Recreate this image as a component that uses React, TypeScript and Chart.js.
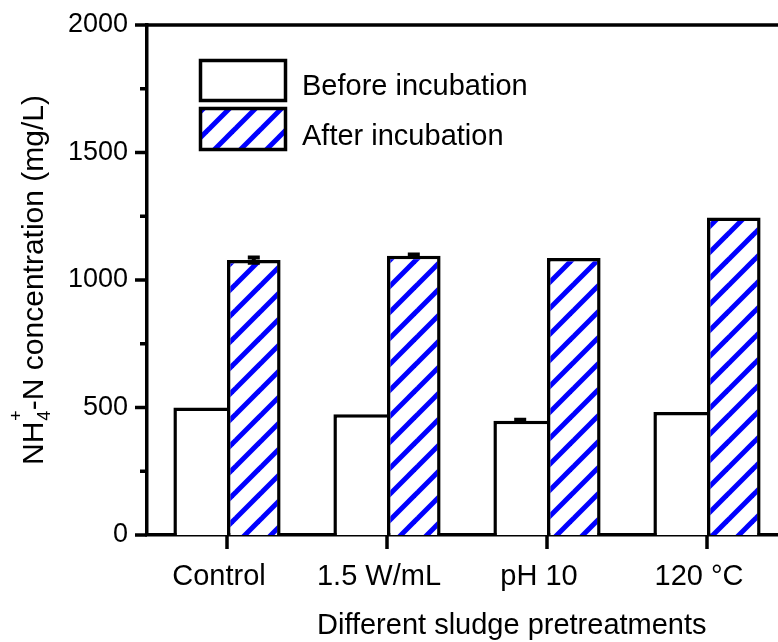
import React, { useEffect, useRef } from 'react';
import { Chart, registerables } from 'chart.js';

Chart.register(...registerables);

// ---- data ----
const categories = ['Control', '1.5 W/mL', 'pH 10', '120 °C'];
const seriesLabels = ['Before incubation', 'After incubation'];
const beforeValues = [500, 474, 448, 482];
const afterValues = [1078, 1095, 1086, 1245];
const beforeErrors = [0, 0, 4, 0];
const afterErrors = [10, 5, 0, 0];
const yMajorTicks = [0, 500, 1000, 1500, 2000];
const yMinorTicks = [250, 750, 1250, 1750];
const xTitle = 'Different sludge pretreatments';
const yTitleParts = { main: 'NH', sub: '4', sup: '+', rest: '-N concentration (mg/L)' };

const FONT = '"Liberation Sans", Arial, Helvetica, sans-serif';
const BLUE = '#0000ff';
const LW = 3.5;

function makeHatch(): CanvasPattern | string {
  const s = 26;
  const c = document.createElement('canvas');
  c.width = s;
  c.height = s;
  const g = c.getContext('2d');
  if (!g) return '#fff';
  g.fillStyle = '#ffffff';
  g.fillRect(0, 0, s, s);
  g.strokeStyle = BLUE;
  g.lineWidth = 5;
  for (let k = 0; k <= 2; k++) {
    g.beginPath();
    g.moveTo(-s, k * s + s);
    g.lineTo(2 * s, k * s - 2 * s);
    g.stroke();
  }
  const p = g.createPattern(c, 'repeat');
  return p || '#fff';
}

export default function App() {
  const ref = useRef<HTMLCanvasElement | null>(null);

  useEffect(() => {
    const canvas = ref.current;
    if (!canvas) return;
    const hatch = makeHatch();

    const decor = {
      id: 'decor',
      afterDatasetsDraw(chart: any) {
        const ctx = chart.ctx;
        const ys = chart.scales.y;
        const errs = [beforeErrors, afterErrors];
        const vals = [beforeValues, afterValues];
        ctx.save();
        ctx.strokeStyle = '#000';
        ctx.lineWidth = 4;
        for (let d = 0; d < 2; d++) {
          const meta = chart.getDatasetMeta(d);
          meta.data.forEach((el: any, i: number) => {
            const e = errs[d][i];
            if (!e) return;
            const v = vals[d][i];
            const x = el.x;
            const y1 = ys.getPixelForValue(v + e);
            const y2 = ys.getPixelForValue(v - e);
            ctx.beginPath();
            ctx.moveTo(x, y1);
            ctx.lineTo(x, y2);
            ctx.moveTo(x - 6, y1);
            ctx.lineTo(x + 6, y1);
            ctx.moveTo(x - 6, y2);
            ctx.lineTo(x + 6, y2);
            ctx.stroke();
          });
        }
        ctx.restore();
      },
      afterDraw(chart: any) {
        const ctx = chart.ctx;
        const { left, right, top, bottom } = chart.chartArea;
        const ys = chart.scales.y;
        const xs = chart.scales.x;
        ctx.save();
        ctx.strokeStyle = '#000';
        ctx.lineWidth = LW;
        ctx.lineCap = 'butt';
        // top frame
        ctx.beginPath();
        ctx.moveTo(left - LW / 2, top);
        ctx.lineTo(right, top);
        ctx.stroke();
        // y ticks
        yMajorTicks.forEach((v) => {
          const y = ys.getPixelForValue(v);
          ctx.beginPath();
          ctx.moveTo(left - 12, y);
          ctx.lineTo(left, y);
          ctx.stroke();
        });
        yMinorTicks.forEach((v) => {
          const y = ys.getPixelForValue(v);
          ctx.beginPath();
          ctx.moveTo(left - 7, y);
          ctx.lineTo(left, y);
          ctx.stroke();
        });
        // x ticks
        categories.forEach((_, i) => {
          const x = xs.getPixelForValue(i);
          ctx.beginPath();
          ctx.moveTo(x, bottom);
          ctx.lineTo(x, bottom + 14);
          ctx.stroke();
        });

        // legend
        const boxX = 200.5;
        const boxW = 85;
        const boxes = [
          { y: 60.5, h: 40, fill: '#ffffff', baseline: 95 },
          { y: 108.5, h: 41, fill: hatch, baseline: 145 },
        ];
        boxes.forEach((b, i) => {
          ctx.fillStyle = b.fill as any;
          ctx.fillRect(boxX, b.y, boxW, b.h);
          ctx.strokeRect(boxX, b.y, boxW, b.h);
          ctx.fillStyle = '#000';
          ctx.font = `29px ${FONT}`;
          ctx.textAlign = 'left';
          ctx.textBaseline = 'alphabetic';
          ctx.fillText(seriesLabels[i], 302, b.baseline);
        });

        // x title
        ctx.fillStyle = '#000';
        ctx.font = `29px ${FONT}`;
        ctx.textAlign = 'left';
        ctx.textBaseline = 'alphabetic';
        ctx.fillText(xTitle, 317, 634);

        // y title (rotated, with sub/superscript)
        const F = 30;
        const small = 18;
        ctx.font = `${F}px ${FONT}`;
        const wMain = ctx.measureText(yTitleParts.main).width;
        ctx.font = `${small}px ${FONT}`;
        const wSub = ctx.measureText(yTitleParts.sub).width;
        const wSup = ctx.measureText(yTitleParts.sup).width;
        const wSS = Math.max(wSub, wSup) + 1;
        ctx.font = `${F}px ${FONT}`;
        const wRest = ctx.measureText(yTitleParts.rest).width;
        const total = wMain + wSS + wRest;
        const cy = (top + bottom) / 2;
        ctx.translate(43, cy + total / 2);
        ctx.rotate(-Math.PI / 2);
        ctx.font = `${F}px ${FONT}`;
        ctx.fillText(yTitleParts.main, 0, 0);
        ctx.font = `${small}px ${FONT}`;
        ctx.fillText(yTitleParts.sub, wMain + 1, 7);
        ctx.fillText(yTitleParts.sup, wMain + 1, -21);
        ctx.font = `${F}px ${FONT}`;
        ctx.fillText(yTitleParts.rest, wMain + wSS, 0);
        ctx.restore();
      },
    };

    const chart = new Chart(canvas, {
      type: 'bar',
      data: {
        labels: categories,
        datasets: [
          {
            label: seriesLabels[0],
            data: beforeValues,
            backgroundColor: '#ffffff',
            borderColor: '#000000',
            borderWidth: { top: LW, left: LW, right: 0, bottom: 0 } as any,
            borderSkipped: 'start',
          },
          {
            label: seriesLabels[1],
            data: afterValues,
            backgroundColor: hatch as any,
            borderColor: '#000000',
            borderWidth: { top: LW, left: LW, right: LW, bottom: 0 } as any,
            borderSkipped: 'start',
          },
        ],
      },
      options: {
        responsive: false,
        animation: false,
        devicePixelRatio: 1,
        layout: { padding: { top: 25, right: 13, left: 0, bottom: 0 } },
        datasets: {
          bar: { categoryPercentage: 0.67, barPercentage: 1 },
        },
        plugins: {
          legend: { display: false },
          tooltip: { enabled: false },
          title: { display: false },
        },
        scales: {
          x: {
            type: 'category',
            offset: true,
            grid: { display: false, drawTicks: false },
            border: { display: true, color: '#000', width: LW },
            ticks: {
              color: '#000',
              font: { size: 29, family: FONT },
              padding: 25,
              labelOffset: -8,
              maxRotation: 0,
              autoSkip: false,
            },
            afterFit: (scale: any) => {
              scale.height = 107;
              scale.paddingLeft = 0;
              scale.paddingRight = 0;
            },
          },
          y: {
            min: 0,
            max: 2000,
            grid: { display: false, drawTicks: false },
            border: { display: true, color: '#000', width: LW },
            ticks: {
              stepSize: 500,
              color: '#000',
              font: { size: 27, family: FONT },
              padding: 19,
              callback: (v: any) => String(v),
            },
            afterFit: (scale: any) => {
              scale.width = 147;
              scale.paddingTop = 0;
              scale.paddingBottom = 0;
            },
          },
        },
      },
      plugins: [decor],
    } as any);

    return () => {
      chart.destroy();
    };
  }, []);

  return (
    <div
      style={{
        position: 'fixed',
        left: 0,
        top: 0,
        width: 778,
        height: 642,
        overflow: 'hidden',
        background: '#ffffff',
      }}
    >
      <canvas ref={ref} width={800} height={642} style={{ display: 'block' }} />
    </div>
  );
}
